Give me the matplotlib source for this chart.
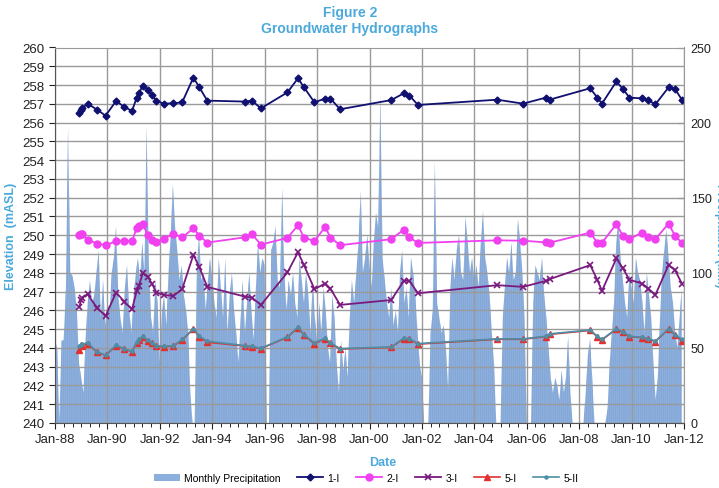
import matplotlib
matplotlib.use("Agg")
import matplotlib.pyplot as plt
import matplotlib.dates as mdates
from matplotlib.patches import Patch
import pandas as pd

plt.rcParams['font.family'] = ['Liberation Sans', 'DejaVu Sans']
plt.rcParams['hatch.linewidth'] = 0.35

# sampling dates of the monitoring wells
sample_dates = ['1988-12-06', '1988-12-28', '1989-01-15', '1989-03-29', '1989-08-08', '1989-12-06',
                '1990-05-01', '1990-08-26', '1990-12-09', '1991-02-13', '1991-03-14', '1991-05-08',
                '1991-07-17', '1991-09-17', '1991-11-14', '1992-02-24', '1992-07-09', '1992-11-07',
                '1993-04-13', '1993-07-06', '1993-10-23', '1995-04-01', '1995-07-06', '1995-11-10',
                '1996-11-14', '1997-04-09', '1997-07-02', '1997-11-24', '1998-04-23', '1998-07-05',
                '1998-11-17', '2000-10-30', '2001-04-23', '2001-07-09', '2001-11-07', '2004-11-14',
                '2005-11-10', '2006-09-24', '2006-11-14', '2008-06-03', '2008-09-09', '2008-11-14',
                '2009-06-03', '2009-09-02', '2009-12-02', '2010-05-27', '2010-08-23', '2010-11-28',
                '2011-05-30', '2011-08-29', '2011-12-02']

well_1I = [256.51, 256.65, 256.76, 257.01, 256.69, 256.37, 257.15, 256.83, 256.62, 257.33,
           257.56, 257.97, 257.76, 257.47, 257.15, 257.01, 257.03, 257.08, 258.40, 257.87,
           257.17, 257.12, 257.17, 256.76, 257.61, 258.36, 257.88, 257.08, 257.28, 257.28,
           256.71, 257.20, 257.56, 257.44, 256.94, 257.22, 257.01, 257.33, 257.22, 257.83,
           257.33, 257.01, 258.19, 257.79, 257.33, 257.29, 257.19, 256.97, 257.87, 257.79,
           257.22]
well_2I = [250.00, 250.09, 250.05, 249.77, 249.56, 249.47, 249.68, 249.72, 249.68, 250.39,
           250.50, 250.61, 250.00, 249.75, 249.65, 249.82, 250.07, 249.89, 250.36, 249.97,
           249.61, 249.89, 250.07, 249.50, 249.86, 250.53, 249.88, 249.68, 250.45, 249.88,
           249.47, 249.79, 250.30, 249.89, 249.59, 249.73, 249.71, 249.62, 249.60, 250.14,
           249.60, 249.60, 250.60, 249.96, 249.80, 250.14, 249.89, 249.79, 250.62, 249.97,
           249.60]
well_3I = [246.18, 246.54, 246.68, 246.86, 246.14, 245.70, 246.95, 246.46, 246.05, 247.04,
           247.30, 247.98, 247.80, 247.39, 246.95, 246.82, 246.77, 247.13, 248.96, 248.29,
           247.25, 246.73, 246.68, 246.29, 248.02, 249.09, 248.41, 247.13, 247.43, 247.16,
           246.29, 246.55, 247.57, 247.57, 246.91, 247.34, 247.25, 247.57, 247.66, 248.41,
           247.63, 247.04, 248.77, 248.23, 247.63, 247.43, 247.16, 246.82, 248.41, 248.14,
           247.43]
well_5I = [243.91, 244.15, 244.10, 244.22, 243.77, 243.60, 244.12, 243.93, 243.80, 244.28,
           244.42, 244.58, 244.38, 244.24, 244.08, 244.05, 244.10, 244.42, 245.00, 244.60,
           244.30, 244.10, 244.05, 243.96, 244.57, 245.08, 244.68, 244.22, 244.50, 244.25,
           243.94, 244.03, 244.50, 244.48, 244.20, 244.46, 244.46, 244.60, 244.72, 244.93,
           244.60, 244.43, 245.00, 244.84, 244.60, 244.55, 244.48, 244.34, 245.00, 244.69,
           244.38]
well_5II = [244.12, 244.18, 244.20, 244.27, 243.79, 243.61, 244.14, 243.95, 243.82, 244.30,
            244.48, 244.61, 244.41, 244.27, 244.12, 244.09, 244.12, 244.45, 245.02, 244.62,
            244.36, 244.12, 244.09, 243.98, 244.59, 245.11, 244.71, 244.27, 244.52, 244.27,
            243.96, 244.05, 244.52, 244.50, 244.23, 244.48, 244.48, 244.62, 244.75, 244.95,
            244.62, 244.45, 245.02, 244.86, 244.62, 244.57, 244.50, 244.36, 245.02, 244.71,
            244.45]

# monthly precipitation (mm), Jan 1988 - Dec 2011, one row per year
precip_mm = [
    55, 50, 0, 55, 55, 90, 197, 100, 98, 90, 75, 40,        # 1988
    30, 20, 55, 80, 95, 80, 85, 100, 115, 70, 95, 65,       # 1989
    80, 75, 100, 110, 131, 85, 70, 60, 90, 105, 75, 60,     # 1990
    85, 100, 110, 95, 120, 100, 197, 105, 70, 60, 95, 80,   # 1991
    40, 75, 85, 65, 100, 125, 159, 130, 115, 95, 105, 85,   # 1992
    75, 60, 20, 0, 0, 105, 125, 95, 100, 75, 95, 110,       # 1993
    95, 80, 70, 110, 90, 70, 110, 60, 85, 100, 75, 60,      # 1994
    40, 70, 95, 60, 80, 100, 75, 55, 90, 120, 100, 110,     # 1995
    105, 0, 0, 115, 120, 131, 95, 90, 156, 100, 75, 95,     # 1996
    85, 100, 80, 70, 110, 95, 80, 100, 85, 60, 95, 70,      # 1997
    55, 80, 60, 90, 75, 50, 40, 85, 70, 40, 20, 55,         # 1998
    35, 50, 30, 70, 95, 80, 100, 120, 155, 100, 110, 125,   # 1999
    105, 90, 120, 140, 130, 218, 110, 95, 80, 70, 90, 65,   # 2000
    75, 60, 100, 115, 80, 90, 70, 110, 100, 85, 60, 40,     # 2001
    30, 0, 0, 0, 60, 75, 174, 80, 70, 60, 65, 50,           # 2002
    22, 90, 110, 95, 115, 125, 100, 95, 137, 120, 100, 110,  # 2003
    95, 105, 90, 120, 141, 110, 100, 85, 60, 40, 0, 0,      # 2004
    0, 70, 90, 110, 100, 120, 95, 100, 136, 120, 100, 70,   # 2005
    0, 0, 0, 80, 105, 100, 95, 110, 85, 70, 50, 30,         # 2006
    20, 30, 25, 15, 35, 20, 30, 58, 20, 0, 0, 0,            # 2007
    0, 0, 0, 20, 45, 56, 30, 0, 0, 0, 0, 0,                 # 2008
    0, 10, 40, 60, 80, 120, 135, 110, 95, 80, 70, 100,      # 2009
    90, 80, 110, 100, 95, 80, 60, 100, 85, 70, 40, 15,      # 2010
    30, 70, 100, 115, 129, 110, 90, 80, 60, 50, 70, 90,     # 2011
]

label_blue = '#4BA9DC'
precip_color = '#8CAFDD'

dates = pd.to_datetime(sample_dates)
months = pd.date_range('1988-01-01', periods=len(precip_mm), freq='MS')

fig = plt.figure(figsize=(7.19, 4.89), dpi=100)
ax = fig.add_axes([55 / 719, 1 - 424 / 489, 629 / 719, 375.5 / 489])
ax2 = ax.twinx()

# precipitation area on the secondary axis, behind the hydrographs
ax2.fill_between(months, precip_mm, 0, facecolor=precip_color, edgecolor='#7C9FCF',
                 hatch='||||||||', linewidth=0)
ax2.set_ylim(0, 250)
ax2.set_yticks(range(0, 251, 50))
ax2.set_yticks([v * 12.5 for v in range(21)], minor=True)
ax2.tick_params(axis='y', labelsize=9, length=4, width=0.8, colors='#222222',
                direction='in', pad=4.8)
ax2.tick_params(axis='y', which='minor', length=4, width=0.6, color='#777777', direction='in')
# the reference crops this label at the right edge of the picture
ax2.set_ylabel('Precipitation (mm)', rotation=270, color=label_blue, fontsize=8.5,
               fontweight='bold', va='center')
ax2.yaxis.set_label_coords(1 + (720 - 684) / 629, 0.5)

ax.set_zorder(ax2.get_zorder() + 1)
ax.patch.set_visible(False)

ax.plot(dates, well_1I, color='#101070', lw=1.3, marker='D', ms=3.5, label='1-I')
ax.plot(dates, well_2I, color='#F040F0', lw=1.3, marker='o', ms=5, label='2-I')
ax.plot(dates, well_3I, color='#7A1A7E', lw=1.3, marker='x', ms=4, mew=1.2, label='3-I')
ax.plot(dates, well_5I, color='#E03030', lw=1.2, marker='^', ms=4, label='5-I')
ax.plot(dates, well_5II, color='#4D8FA6', lw=1.2, marker='o', ms=2.2, label='5-II')

ax.set_ylim(240, 260)
ax.set_yticks(range(240, 261))
ax.set_xlim(pd.Timestamp('1988-01-01'), pd.Timestamp('2012-01-01'))
ax.xaxis.set_major_locator(mdates.YearLocator(2, month=1, day=1))
ax.xaxis.set_major_formatter(mdates.DateFormatter('%b-%y'))
ax.xaxis.set_minor_locator(mdates.MonthLocator(bymonth=[1, 5, 9]))
ax.tick_params(axis='both', labelsize=9.5, colors='#222222', length=4, width=0.8)
ax.tick_params(axis='x', which='minor', length=3, width=0.6)
ax.grid(True, which='major', color='#9A9A9A', linewidth=1.0)

for name, sp in ax.spines.items():
    sp.set_color('#555555' if name in ('left', 'bottom') else '#9A9A9A')
for sp in ax2.spines.values():
    sp.set_visible(False)

ax.set_ylabel('Elevation  (mASL)', color=label_blue, fontsize=9, fontweight='bold')
ax.yaxis.set_label_coords(-(55 - 17) / 629, 0.5)
ax.set_xlabel('Date', color=label_blue, fontsize=9, fontweight='bold')
ax.xaxis.set_label_coords((383 - 55) / 629, -(457 - 424) / 375.5)

fig.text(350 / 719, 1 - 13 / 489, 'Figure 2', ha='center', va='center',
         color=label_blue, fontsize=10, fontweight='bold')
fig.text(350 / 719, 1 - 29 / 489, 'Groundwater Hydrographs', ha='center', va='center',
         color=label_blue, fontsize=10, fontweight='bold')

handles = [Patch(facecolor=precip_color, edgecolor='none')] + ax.get_lines()
labels = ['Monthly Precipitation', '1-I', '2-I', '3-I', '5-I', '5-II']
fig.legend(handles, labels, loc='center', bbox_to_anchor=(366 / 719, 1 - 479 / 489), ncol=6,
           frameon=False, fontsize=7.5, handlelength=2.5, columnspacing=1.6, handletextpad=0.4)

fig.savefig('out.png', dpi=100)
